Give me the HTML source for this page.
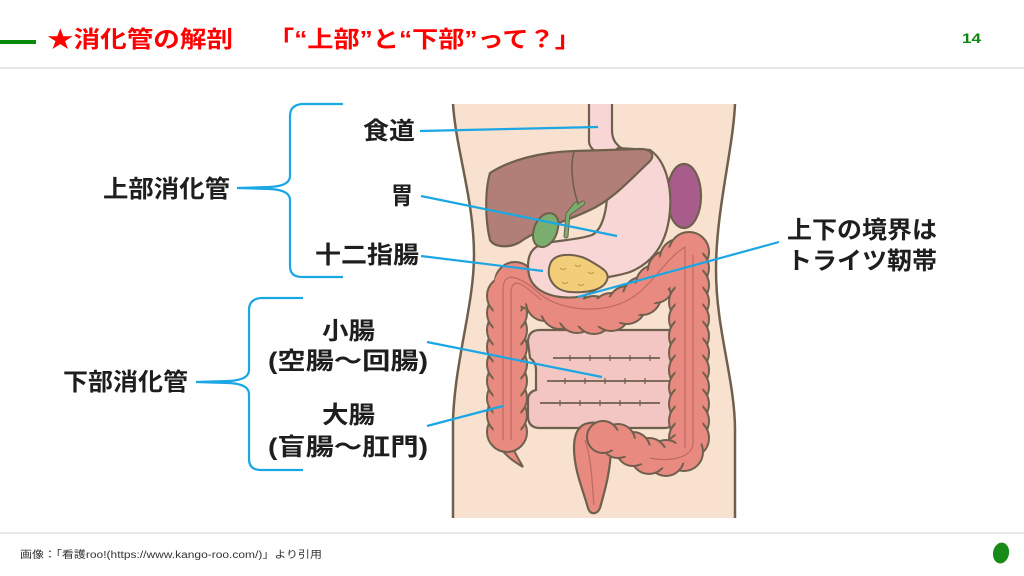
<!DOCTYPE html>
<html><head><meta charset="utf-8"><style>
html,body{margin:0;padding:0;background:#fff;}
svg{display:block;}
text{font-family:"Liberation Sans","Noto Sans CJK JP",sans-serif;}
</style></head><body>
<svg width="1024" height="576" viewBox="0 0 1024 576" xmlns="http://www.w3.org/2000/svg">
<rect width="1024" height="576" fill="#fff"/>
<!-- header -->
<rect x="0" y="40" width="36" height="4" fill="#0a8a0a"/>
<text x="47" y="47" font-size="23" font-weight="bold" fill="#ff0000" textLength="186" lengthAdjust="spacingAndGlyphs">★消化管の解剖</text>
<text x="268" y="47" font-size="23" font-weight="bold" fill="#ff0000" textLength="313" lengthAdjust="spacingAndGlyphs">「“上部”と“下部”って？」</text>
<text x="962" y="43" font-size="14" font-weight="bold" fill="#0a8a0a" textLength="19" lengthAdjust="spacingAndGlyphs">14</text>
<rect x="0" y="67" width="1024" height="2" fill="#e8e8e8"/>

<!-- body -->
<path d="M453,104 C456,150 474,200 474,255 C474,305 455,360 453,420 L453,518 L735,518 L735,430 C735,380 716,330 716,270 C716,210 733,150 735,104 Z" fill="#F8E1CF"/>
<g fill="none" stroke="#6E604D" stroke-width="2.5">
<path d="M453,104 C456,150 474,200 474,255 C474,305 455,360 453,420 L453,518"/>
<path d="M735,104 C733,150 716,210 716,270 C716,330 735,380 735,430 L735,518"/>
</g>

<!-- small intestine -->
<path d="M540,330 L668,330 Q680,330 680,342 L680,372 Q680,380 676,384 Q680,388 680,395 L678,415 Q676,428 664,428 L540,428 Q528,428 528,416 L528,400 Q528,392 536,390 L536,370 Q536,362 530,358 L528,342 Q528,330 540,330 Z" fill="#F3C6C4" stroke="#6E604D" stroke-width="2.2"/>
<g fill="none" stroke="#6E604D" stroke-width="1.8">
<path d="M553,358 L660,358"/>
<path d="M547,381 L672,381"/>
<path d="M540,403 L660,403"/>
</g>
<g stroke="#6E604D" stroke-width="1.2">
<path d="M570,355 v6 M590,355 v6 M610,355 v6 M630,355 v6 M650,355 v6"/>
<path d="M565,378 v6 M585,378 v6 M605,378 v6 M625,378 v6 M645,378 v6"/>
<path d="M560,400 v6 M580,400 v6 M600,400 v6 M620,400 v6 M640,400 v6"/>
</g>

<!-- colon -->
<path d="M500,448 C508,458 515,462 523,467 C518,458 514,452 512,444 Z" fill="#E88A80" stroke="#6E604D" stroke-width="2"/>
<path d="M585,424 C600,419 611,428 611,445 C611,470 605,490 600,508 C597,515 590,515 588,508 C583,490 574,470 574,448 C574,435 578,427 585,424 Z" fill="#E88A80" stroke="#6E604D" stroke-width="2.2"/>
<g fill="#E88A80" stroke="#6E604D" stroke-width="2">
<circle cx="507" cy="432" r="20"/><circle cx="507" cy="415" r="20"/><circle cx="507" cy="398" r="20"/>
<circle cx="507" cy="381" r="20"/><circle cx="507" cy="364" r="20"/><circle cx="507" cy="347" r="20"/>
<circle cx="507" cy="330" r="20"/><circle cx="507" cy="313" r="20"/><circle cx="507" cy="296" r="20"/>
<circle cx="515" cy="282" r="20"/><circle cx="530" cy="290" r="19"/><circle cx="545" cy="302" r="19"/>
<circle cx="560" cy="310" r="19"/><circle cx="577" cy="314" r="19"/><circle cx="594" cy="315" r="19"/>
<circle cx="611" cy="312" r="19"/><circle cx="627" cy="305" r="19"/><circle cx="642" cy="296" r="19"/>
<circle cx="655" cy="284" r="19"/><circle cx="667" cy="270" r="19"/><circle cx="679" cy="258" r="19"/>
<circle cx="689" cy="252" r="20"/><circle cx="689" cy="268" r="20"/><circle cx="689" cy="285" r="20"/>
<circle cx="689" cy="302" r="20"/><circle cx="689" cy="319" r="20"/><circle cx="689" cy="336" r="20"/>
<circle cx="689" cy="353" r="20"/><circle cx="689" cy="370" r="20"/><circle cx="689" cy="387" r="20"/>
<circle cx="689" cy="404" r="20"/><circle cx="689" cy="421" r="20"/><circle cx="689" cy="438" r="20"/>
<circle cx="684" cy="452" r="19"/><circle cx="666" cy="458" r="18"/><circle cx="649" cy="456" r="18"/>
<circle cx="633" cy="449" r="17"/><circle cx="618" cy="441" r="17"/><circle cx="603" cy="437" r="16"/>
</g>
<path d="M507,432 L507,290 C507,270 522,280 540,298 C562,316 605,318 632,303 C655,290 668,262 689,250 L689,438" fill="none" stroke="#E88A80" stroke-width="27" stroke-linecap="round" stroke-linejoin="round"/>
<path d="M689,438 L684,452 L666,458 L649,456 L633,449 L618,441 L603,437" fill="none" stroke="#E88A80" stroke-width="20" stroke-linecap="round" stroke-linejoin="round"/>
<path d="M503,440 L503,290 C503,268 522,278 540,294 C562,312 605,314 630,299 C652,286 666,258 685,247 L685,448" fill="none" stroke="#C06A61" stroke-width="1.2"/>
<path d="M511,440 L511,292 C512,276 524,284 541,300" fill="none" stroke="#C06A61" stroke-width="1.2"/>
<path d="M693,255 L693,445 C690,458 670,462 650,458" fill="none" stroke="#C06A61" stroke-width="1.2"/>
<path d="M585,440 C592,460 592,485 594,505" fill="none" stroke="#C06A61" stroke-width="1.2"/>

<!-- spleen -->
<ellipse cx="684" cy="196" rx="17" ry="32" fill="#A85C8C" stroke="#6E604D" stroke-width="2.2"/>

<!-- esophagus -->
<path d="M589,104 L589,142 C590,150 598,154 608,154 L630,154 C616,146 612,140 612,130 L612,104 Z" fill="#F8D6D5"/>
<path d="M589,104 L589,142 C590,150 598,154 608,154 M612,104 L612,130 C612,140 616,146 628,152" fill="none" stroke="#6E604D" stroke-width="2.2"/>

<!-- stomach + duodenum -->
<path d="M607,187 C606,170 608,155 618,148 L650,150 C665,160 672,185 670,210 C668,240 655,262 630,272 C615,277 606,276 602,280 C600,290 585,300 560,297 C545,295 532,288 529,275 C526,260 530,250 538,246 C550,240 575,241 592,235 C602,230 608,210 607,187 Z" fill="#F8D6D5" stroke="#6E604D" stroke-width="2.2"/>

<!-- pancreas -->
<path d="M551,262 C558,251 580,254 592,262 C602,268 610,272 607,280 C603,291 585,293 570,292 C555,291 544,278 551,262 Z" fill="#F2CE7A" stroke="#6E604D" stroke-width="2"/>
<g fill="none" stroke="#B8944A" stroke-width="1">
<path d="M560,268 q3,3 6,0 M575,265 q3,3 6,0 M588,272 q3,3 6,0 M562,282 q3,3 6,0 M578,284 q3,3 6,0"/>
</g>

<!-- liver -->
<path d="M490,173 C510,160 540,152 575,151 L640,149 C652,149 656,156 648,163 C630,180 612,200 590,210 C565,222 540,228 520,242 C510,248 495,248 490,240 C485,220 485,190 490,173 Z" fill="#B17F77" stroke="#6E604D" stroke-width="2.2"/>
<path d="M574,152 C570,165 572,190 580,208" fill="none" stroke="#6E604D" stroke-width="1.6"/>

<!-- bile duct + gallbladder -->
<path d="M566,236 L568,214 L583,203 M568,214 L576,204" fill="none" stroke="#6E604D" stroke-width="5" stroke-linecap="round"/>
<path d="M566,236 L568,214 L583,203 M568,214 L576,204" fill="none" stroke="#7AAE6E" stroke-width="3" stroke-linecap="round"/>
<path d="M541,217 C549,209 561,214 558,228 C556,242 545,250 538,246 C530,242 532,225 541,217 Z" fill="#7AAE6E" stroke="#6E604D" stroke-width="2"/>

<!-- brackets -->
<g fill="none" stroke="#1BA6E4" stroke-width="2.2">
<path d="M343,104 L302,104 Q290,105 290,116 L290,176 Q290,186 270,187 L237,188 L270,189 Q290,190 290,200 L290,266 Q290,277 302,277 L343,277"/>
<path d="M303,298 L261,298 Q249,299 249,310 L249,370 Q249,380 229,381 L196,382 L229,383 Q249,384 249,394 L249,459 Q249,470 261,470 L303,470"/>
<!-- leaders -->
<path d="M420,131 L598,127"/>
<path d="M421,196 L617,236"/>
<path d="M421,256 L543,271"/>
<path d="M427,342 L602,377"/>
<path d="M427,426 L503,406"/>
<path d="M779,242 L578,297"/>
</g>

<!-- labels -->
<g font-size="24" font-weight="bold" fill="#1e1e1e">
<text x="103" y="197" textLength="127" lengthAdjust="spacingAndGlyphs">上部消化管</text>
<text x="363" y="139" textLength="52" lengthAdjust="spacingAndGlyphs">食道</text>
<text x="391" y="204" textLength="22" lengthAdjust="spacingAndGlyphs">胃</text>
<text x="315" y="263" textLength="104" lengthAdjust="spacingAndGlyphs">十二指腸</text>
<text x="63" y="390" textLength="125" lengthAdjust="spacingAndGlyphs">下部消化管</text>
<text x="322" y="339" textLength="53" lengthAdjust="spacingAndGlyphs">小腸</text>
<text x="268" y="369" textLength="160" lengthAdjust="spacingAndGlyphs">(空腸～回腸)</text>
<text x="322" y="423" textLength="53" lengthAdjust="spacingAndGlyphs">大腸</text>
<text x="268" y="455" textLength="160" lengthAdjust="spacingAndGlyphs">(盲腸～肛門)</text>
<text x="787" y="238" textLength="150" lengthAdjust="spacingAndGlyphs">上下の境界は</text>
<text x="787" y="269" textLength="150" lengthAdjust="spacingAndGlyphs">トライツ靭帯</text>
</g>

<!-- footer -->
<rect x="0" y="532" width="1024" height="2" fill="#e8e8e8"/>
<text x="20" y="558" font-size="10" fill="#333" textLength="302" lengthAdjust="spacingAndGlyphs">画像：「看護roo!(https://www.kango-roo.com/)」より引用</text>
<ellipse cx="1001" cy="553" rx="8" ry="10.5" fill="#178a17" transform="rotate(10 1001 553)"/>
</svg>
</body></html>
